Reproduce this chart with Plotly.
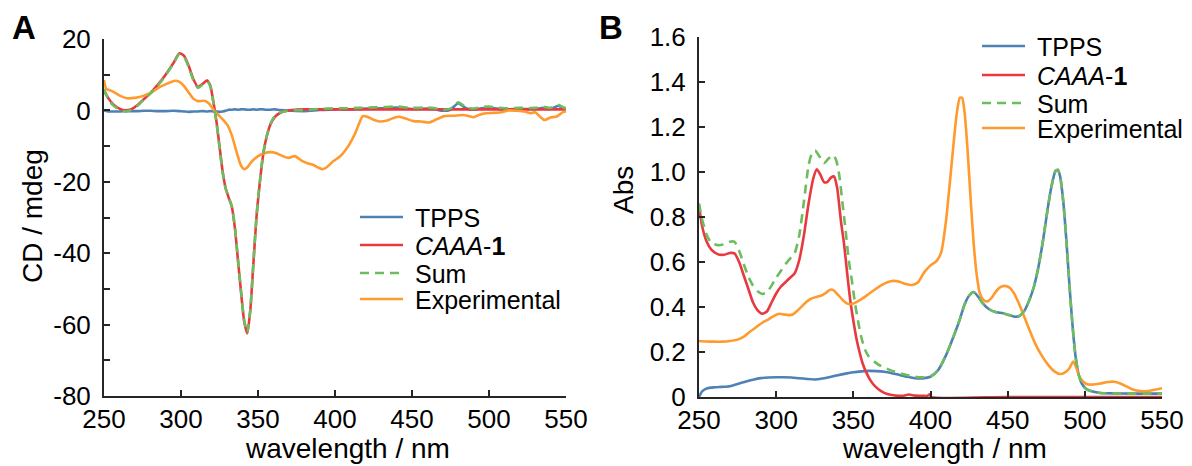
import plotly.graph_objects as go

# ---------------- Panel A (CD) ----------------
wl_a = [250, 253, 256, 260, 264, 268, 272, 276, 280, 285, 290, 295, 299, 302, 305, 308, 311, 314, 317, 319,
        321, 323, 325, 327, 329, 331, 333, 335, 337, 339, 341, 343, 345, 347, 349, 351, 353, 355, 358, 361,
        364, 368, 372, 380, 390, 400, 410, 420, 430, 440, 450, 460, 465, 470, 475, 480, 485, 490, 495, 500,
        505, 510, 520, 530, 535, 540, 545, 548, 550]
cd_tpps = [0.0, -0.3, -0.3, -0.3, -0.2, -0.2, -0.2, -0.1, -0.1, -0.2, -0.2, -0.1, -0.2, -0.3, -0.4, -0.3, -0.3, -0.2, -0.3, -0.2,
           -0.3, -0.3, -0.4, -0.3, -0.1, 0.2, 0.2, 0.3, 0.2, 0.3, 0.3, 0.2, 0.2, 0.3, 0.2, 0.3, 0.3, 0.2, 0.2, 0.3,
           0.1, 0.0, -0.1, -0.2, 0.1, 0.3, 0.3, 0.5, 0.6, 0.8, 0.4, 0.5, 0.3, -0.1, 0.2, 2.0, 0.6, 0.2, 0.6, 0.8,
           0.5, 0.3, 0.4, 0.4, 0.7, 0.4, 1.3, 0.6, 0.3]
cd_caaa = [5.5, 3.3, 1.7, 0.5, 0.0, 0.4, 1.6, 3.2, 4.8, 7.2, 10.0, 13.2, 16.0, 15.3, 12.5, 8.8, 6.6, 7.4, 8.4, 7.0,
           2.5, -3.0, -10.0, -17.0, -21.8, -24.5, -27.0, -33.0, -42.0, -51.0, -59.0, -62.5, -56.0, -43.0, -30.0, -21.0, -13.5, -8.5, -4.0, -1.8,
           -0.8, -0.2, 0.1, 0.3, 0.3, 0.3, 0.3, 0.3, 0.3, 0.3, 0.3, 0.3, 0.3, 0.3, 0.3, 0.3, 0.3, 0.3, 0.3, 0.3,
           0.3, 0.3, 0.3, 0.3, 0.3, 0.3, 0.3, 0.3, 0.3]
cd_sum = [6.0, 3.0, 1.4, 0.2, -0.3, 0.2, 1.4, 3.1, 4.7, 7.0, 9.8, 13.1, 15.8, 15.0, 12.1, 8.5, 6.3, 7.2, 8.1, 6.8,
          2.2, -3.3, -10.4, -17.3, -21.9, -24.3, -26.8, -32.7, -41.8, -50.7, -58.7, -62.3, -55.8, -42.7, -29.8, -20.7, -13.2, -8.3, -3.8, -1.5,
          -0.7, -0.2, 0.0, 0.1, 0.4, 0.6, 0.6, 0.8, 0.9, 1.1, 0.7, 0.8, 0.6, 0.2, 0.5, 2.3, 0.9, 0.5, 0.9, 1.1,
          0.8, 0.6, 0.7, 0.7, 1.0, 0.7, 1.6, 0.9, 0.6]
wl_a_exp = [250, 251.5, 254, 257, 261, 265, 270, 275, 280, 286, 291, 296, 299, 302, 305, 308, 311, 315, 318, 322,
            326, 330, 333, 336, 339, 341, 343, 346, 350, 354, 358, 362, 366, 370, 374, 378, 382, 386, 389, 392,
            395, 399, 403, 407, 410, 413, 416, 418, 421, 425, 429, 434, 438, 442, 446, 451, 456, 461, 466, 471,
            477, 483, 487, 490, 494, 498, 503, 508, 513, 518, 523, 527, 530, 533, 536, 540, 544, 548, 550]
cd_exp = [8.5, 6.0, 5.6, 5.0, 4.0, 3.4, 3.5, 4.0, 4.8, 6.5, 7.5, 8.3, 8.0, 6.8, 5.0, 3.3, 2.6, 2.7, 2.0, -0.3,
          -2.0, -4.0, -7.0, -11.5, -15.5, -16.5, -16.0, -14.3, -12.8, -12.0, -11.7, -12.0, -12.8, -13.3, -12.8, -14.0, -14.8, -15.3, -16.0, -16.5,
          -15.8, -14.2, -13.0, -11.0, -9.0, -6.5, -3.3, -1.6, -1.8, -2.6, -3.1, -2.8, -2.1, -1.8, -2.3, -3.0, -3.1, -3.4, -2.5, -1.6,
          -1.5, -1.3, -1.6, -1.9, -1.2, -0.8, -0.7, -0.5, 0.0, -0.1, -0.3, -0.8, -0.5, -1.7, -2.7, -2.0, -1.7, -0.5, -0.3]

# ---------------- Panel B (Abs) ----------------
wl_b_tpps = [250, 252, 255, 260, 265, 270, 275, 280, 285, 290, 295, 300, 305, 310, 315, 320, 325, 330, 335, 340,
             345, 350, 355, 360, 365, 370, 375, 380, 385, 390, 395, 400, 405, 410, 415, 419, 422, 425, 428, 431,
             434, 438, 442, 447, 451, 455, 458, 461, 464, 467, 470, 473, 476, 478.5, 481, 482.5, 484, 486, 488, 490,
             492, 494, 496, 498, 501, 505, 510, 520, 530, 540, 550]
abs_tpps = [0.0, 0.025, 0.038, 0.043, 0.045, 0.048, 0.058, 0.068, 0.077, 0.084, 0.087, 0.088, 0.088, 0.087, 0.083, 0.080, 0.078, 0.082, 0.089, 0.097,
            0.104, 0.110, 0.114, 0.116, 0.115, 0.112, 0.106, 0.098, 0.090, 0.084, 0.083, 0.090, 0.120, 0.185, 0.27, 0.345, 0.41, 0.45, 0.467, 0.445,
            0.415, 0.39, 0.378, 0.372, 0.364, 0.357, 0.362, 0.385, 0.43, 0.49, 0.58, 0.70, 0.84, 0.94, 1.005, 1.01, 0.98, 0.87, 0.70, 0.50,
            0.32, 0.18, 0.10, 0.06, 0.035, 0.024, 0.018, 0.016, 0.015, 0.015, 0.015]
wl_b_caaa = [250, 252, 255, 258, 262, 266, 270, 273, 276, 279, 282, 285, 288, 291, 294, 297, 300, 303, 306, 309,
             312, 315, 318, 321, 324, 326.3, 328.5, 331, 333, 335.5, 337.5, 339.5, 342, 344, 346, 348, 350, 352, 354, 356,
             358, 361, 364, 368, 372, 377, 382, 386, 390, 395, 398, 399.5, 400.5, 450, 500, 550]
abs_caaa = [0.85, 0.76, 0.69, 0.655, 0.635, 0.632, 0.64, 0.638, 0.60, 0.54, 0.48, 0.42, 0.385, 0.37, 0.38, 0.42, 0.46, 0.49, 0.51, 0.53,
            0.55, 0.61, 0.72, 0.86, 0.97, 1.012, 0.99, 0.955, 0.955, 0.975, 0.98, 0.93, 0.78, 0.68, 0.55, 0.43, 0.34, 0.26, 0.20, 0.15,
            0.115, 0.075, 0.048, 0.026, 0.013, 0.007, 0.005, 0.011, 0.006, 0.005, 0.005, 0.012, 0.0, 0.0, 0.0, 0.0]
wl_b_sum = [250, 252, 255, 258, 262, 266, 270, 273, 276, 279, 282, 285, 288, 291, 294, 297, 300, 303, 306, 309,
            312, 315, 318, 321, 323, 325.2, 328, 331, 334, 337, 339, 341, 343, 345, 347, 349, 351, 353, 355, 357.6,
            360, 364, 368, 372, 377, 382, 387, 392, 396, 400, 405, 410, 415, 419, 422, 425, 428, 431, 434, 438,
            442, 447, 451, 455, 458, 461, 464, 467, 470, 473, 476, 478.5, 481, 482.5, 484, 486, 488, 490, 492, 494,
            496, 498, 501, 505, 510, 520, 530, 540, 550]
abs_sum = [0.86, 0.79, 0.72, 0.685, 0.675, 0.678, 0.69, 0.69, 0.65, 0.59, 0.535, 0.495, 0.47, 0.458, 0.465, 0.495, 0.53, 0.56, 0.59, 0.615,
           0.64, 0.72, 0.87, 1.03, 1.08, 1.095, 1.07, 1.04, 1.06, 1.075, 1.05, 0.98, 0.86, 0.74, 0.61, 0.52, 0.42, 0.34, 0.27, 0.21,
           0.18, 0.155, 0.137, 0.125, 0.112, 0.102, 0.094, 0.088, 0.088, 0.092, 0.120, 0.185, 0.27, 0.345, 0.41, 0.45, 0.467, 0.445, 0.415, 0.39,
           0.378, 0.372, 0.364, 0.357, 0.362, 0.385, 0.43, 0.49, 0.58, 0.70, 0.84, 0.94, 1.005, 1.01, 0.98, 0.87, 0.70, 0.50, 0.32, 0.18,
           0.10, 0.06, 0.035, 0.024, 0.018, 0.016, 0.015, 0.015, 0.015]
wl_b_exp = [250, 255, 260, 265, 270, 275, 279, 283, 287, 291, 295, 299, 302, 305, 308, 311, 314, 317, 320, 323,
            326, 329, 332, 335, 337, 340, 343, 346, 349, 352, 356, 360, 364, 368, 372, 376, 380, 384, 388, 392,
            396, 400, 404, 407, 410, 412.5, 415, 417, 419, 420.5, 422, 424, 426, 428, 430, 432, 434.5, 437, 439.5, 442,
            445, 448, 451, 454, 457, 460, 464, 468, 472, 476, 480, 484, 487, 490, 492.5, 494.5, 496, 498, 501, 505,
            510, 515, 519, 523, 527, 531, 536, 541, 546, 550]
abs_exp = [0.249, 0.247, 0.246, 0.246, 0.249, 0.255, 0.268, 0.29, 0.31, 0.33, 0.345, 0.362, 0.37, 0.367, 0.364, 0.368, 0.385, 0.405, 0.425, 0.438,
           0.445, 0.45, 0.462, 0.477, 0.475, 0.455, 0.432, 0.415, 0.413, 0.422, 0.438, 0.458, 0.478, 0.496, 0.51, 0.516, 0.512, 0.502, 0.498, 0.51,
           0.555, 0.585, 0.605, 0.645, 0.78, 0.95, 1.13, 1.26, 1.33, 1.33, 1.27, 1.10, 0.88, 0.68, 0.54, 0.46, 0.43, 0.425, 0.44, 0.465,
           0.487, 0.494, 0.487, 0.462, 0.42, 0.37, 0.30, 0.235, 0.185, 0.145, 0.115, 0.102, 0.108, 0.128, 0.158, 0.13, 0.098, 0.075, 0.058, 0.055,
           0.06, 0.067, 0.068, 0.06, 0.047, 0.033, 0.026, 0.027, 0.033, 0.039]

x_ticks = [250, 300, 350, 400, 450, 500, 550]
a_yticks = [-80, -70, -60, -50, -40, -30, -20, -10, 0, 10, 20]
a_ytext = ["-80", "", "-60", "", "-40", "", "-20", "", "0", "", "20"]
b_yticks = [0, 0.2, 0.4, 0.6, 0.8, 1.0, 1.2, 1.4, 1.6]
b_ytext = ["0", "0.2", "0.4", "0.6", "0.8", "1.0", "1.2", "1.4", "1.6"]

series_names = ["TPPS", "<i>CAAA</i>-<b>1</b>", "Sum", "Experimental"]
colors = ["#4f81b5", "#e8393f", "#6dbd5e", "#ff9a2f"]
dashes = ["solid", "solid", "9px,6px", "solid"]

# the page body has an 8 px margin, so the figure is placed at (8, 8)
OFF = 8
W, H = 1192 - OFF, 466 - OFF
FONT = "Liberation Sans, Arial, sans-serif"

def px(x):
    return (x - OFF) / W

def py(y):
    return 1 - (y - OFF) / H

fig = go.Figure()

a_data = [(wl_a, cd_tpps), (wl_a, cd_caaa), (wl_a, cd_sum), (wl_a_exp, cd_exp)]
b_data = [(wl_b_tpps, abs_tpps), (wl_b_caaa, abs_caaa), (wl_b_sum, abs_sum), (wl_b_exp, abs_exp)]
order = [0, 1, 3, 2]  # draw sum on top of red
for i in order:
    xs, ys = a_data[i]
    fig.add_trace(go.Scatter(x=xs, y=ys, mode="lines", name=series_names[i], showlegend=False,
                             line=dict(color=colors[i], width=2.6, dash=dashes[i], shape="spline", smoothing=0.6),
                             xaxis="x", yaxis="y"))
for i in order:
    xs, ys = b_data[i]
    fig.add_trace(go.Scatter(x=xs, y=ys, mode="lines", name=series_names[i], showlegend=False,
                             line=dict(color=colors[i], width=2.6, dash=dashes[i], shape="spline", smoothing=0.6),
                             xaxis="x2", yaxis="y2"))

axis_common = dict(showline=True, linecolor="#262626", linewidth=2, ticks="inside", ticklen=6,
                   tickwidth=2, tickcolor="#262626", showgrid=False, zeroline=False, automargin=False,
                   tickfont=dict(family=FONT, size=26, color="#000000"), mirror=False)

fig.update_layout(
    template="none",
    width=W, height=H,
    margin=dict(l=0, r=0, t=0, b=0, pad=0),
    paper_bgcolor="white", plot_bgcolor="white",
    showlegend=False,
    xaxis=dict(domain=[px(104), px(566)], range=[250, 550], tickvals=x_ticks, anchor="y",
               ticklabelstandoff=-1, **axis_common),
    yaxis=dict(domain=[py(396), py(39)], range=[-80, 20], tickvals=a_yticks, ticktext=a_ytext, anchor="x",
               ticklabelstandoff=6, **axis_common),
    xaxis2=dict(domain=[px(699), px(1162)], range=[250, 550], tickvals=x_ticks, anchor="y2",
                ticklabelstandoff=-1, **axis_common),
    yaxis2=dict(domain=[py(397), py(37)], range=[0, 1.6], tickvals=b_yticks, ticktext=b_ytext, anchor="x2",
                ticklabelstandoff=6, **axis_common),
)

annotations = []
shapes = []

def text_ann(x, y, text, size=26, bold=False, angle=0, xanchor="center"):
    t = f"<b>{text}</b>" if bold else text
    annotations.append(dict(x=px(x), y=py(y), xref="paper", yref="paper", text=t, showarrow=False,
                            xanchor=xanchor, yanchor="middle", textangle=angle,
                            font=dict(family=FONT, size=size, color="#000000")))

# panel letters
text_ann(24, 27, "A", size=33, bold=True)
text_ann(611, 27, "B", size=33, bold=True)
# axis titles
text_ann(347, 448, "wavelength / nm", size=28)
text_ann(944, 448, "wavelength / nm", size=28)
text_ann(33, 216, "CD / mdeg", size=28, angle=-90)
text_ann(624, 190, "Abs", size=28, angle=-90)

# legends
def legend(x0, x1, xt, rows):
    for i, yy in enumerate(rows):
        shapes.append(dict(type="line", xref="paper", yref="paper", x0=px(x0), x1=px(x1), y0=py(yy), y1=py(yy),
                           line=dict(color=colors[i], width=2.6, dash=dashes[i])))
        text_ann(xt, yy + 1, series_names[i], size=25, xanchor="left")

legend(360, 403, 413, [217, 245, 273, 299])
legend(982, 1025, 1035, [46, 75, 103, 128])

fig.update_layout(annotations=annotations, shapes=shapes)
fig.write_html("out.html")
